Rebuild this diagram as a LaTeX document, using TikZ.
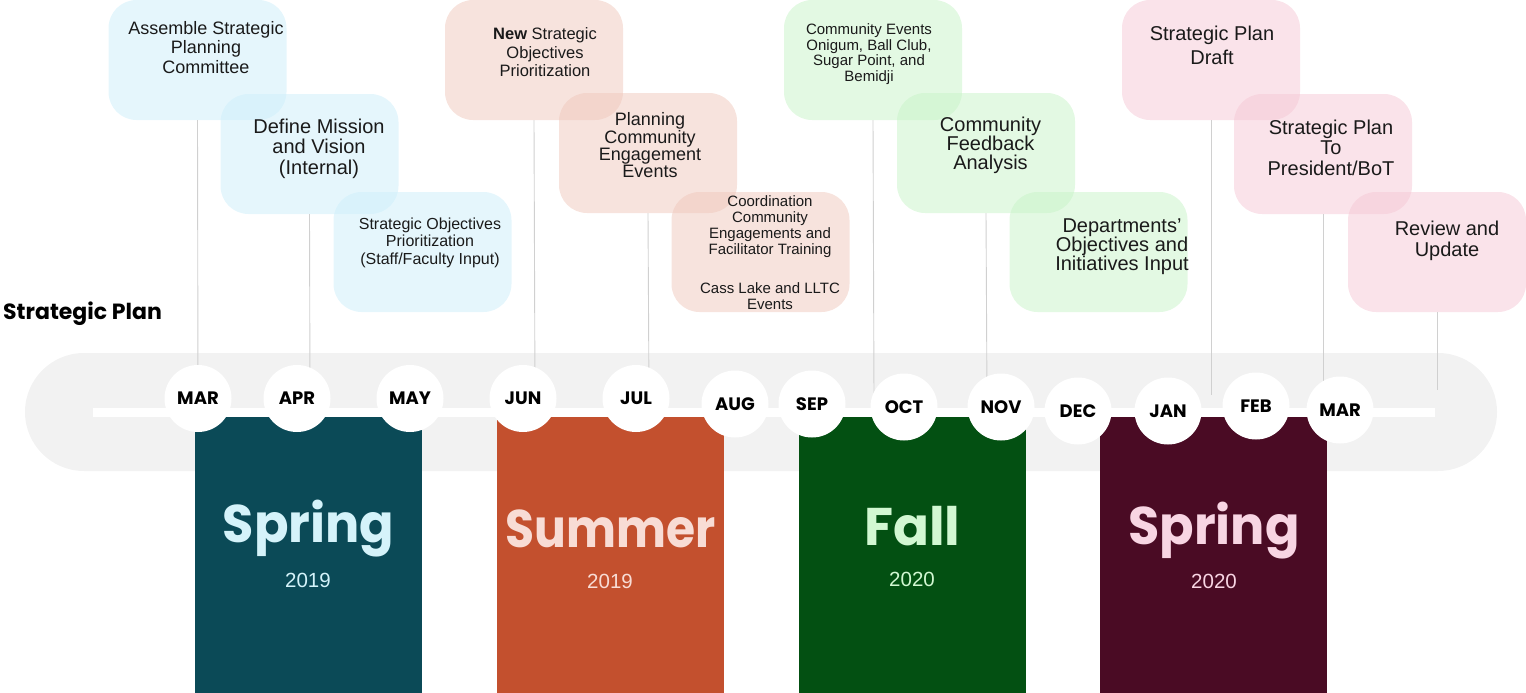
\documentclass[tikz,border=0pt]{standalone}
\usepackage{graphicx}
\usepackage{fontspec}
\setmainfont{Liberation Sans}
\newfontfamily\gothic{Poppins}
\definecolor{band}{RGB}{242,242,242}
\definecolor{lead}{RGB}{208,208,208}
\definecolor{txt}{RGB}{26,26,26}
\definecolor{bluefill}{RGB}{204,238,250}
\definecolor{orangefill}{RGB}{239,199,187}
\definecolor{greenfill}{RGB}{199,243,199}
\definecolor{pinkfill}{RGB}{245,199,213}
\definecolor{springA}{RGB}{11,74,87}
\definecolor{summerC}{RGB}{195,80,46}
\definecolor{fallC}{RGB}{3,80,18}
\definecolor{springB}{RGB}{74,11,36}
\definecolor{springAt}{RGB}{213,243,250}
\definecolor{summerCt}{RGB}{248,220,213}
\definecolor{fallCt}{RGB}{210,248,210}
\definecolor{springBt}{RGB}{248,213,227}
\tikzset{
  box/.style={rounded corners=28pt, minimum width=178pt, minimum height=120pt, inner sep=0pt, fill opacity=0.5},
  boxtext/.style={align=center, inner sep=0pt, text=txt},
  leader/.style={draw=lead, line width=0.9pt},
  month/.style={circle, fill=white, minimum size=67pt, inner sep=0pt, font=\gothic\bfseries\fontsize{18pt}{20pt}\selectfont, text=black},
  season/.style={inner sep=0pt, anchor=base, font=\gothic\bfseries\fontsize{53pt}{60pt}\selectfont},
  year/.style={inner sep=0pt, anchor=base, font=\fontsize{20.5pt}{22pt}\selectfont},
  block/.style={inner sep=0pt, minimum width=227pt, minimum height=276pt, anchor=north west}
}
\begin{document}
\begin{tikzpicture}[x=1pt,y=-1pt]
\useasboundingbox (0,0) rectangle (1526,693);
% band and white line
\fill[band, rounded corners=59pt] (25,353) rectangle (1497,471);
\fill[white] (93,408) rectangle (1435,417);
% season blocks
\node[block, fill=springA] (sA) at (195,417) {};
\node[block, fill=summerC] (sS) at (497,417) {};
\node[block, fill=fallC] (sF) at (799,417) {};
\node[block, fill=springB] (sB) at (1100,417) {};
% boxes
\node[box, fill=bluefill] (b1) at (197.5,60) {};
\node[box, fill=bluefill] (b2) at (309.5,154) {};
\node[box, fill=bluefill] (b3) at (422.5,252) {};
\node[box, fill=orangefill] (o1) at (534,60) {};
\node[box, fill=orangefill] (o2) at (648,153) {};
\node[box, fill=orangefill] (o3) at (760.5,252) {};
\node[box, fill=greenfill] (g1) at (873,60) {};
\node[box, fill=greenfill] (g2) at (986,153) {};
\node[box, fill=greenfill] (g3) at (1098.5,252) {};
\node[box, fill=pinkfill] (p1) at (1211,60) {};
\node[box, fill=pinkfill] (p2) at (1323,154) {};
\node[box, fill=pinkfill] (p3) at (1437,252) {};
% leader ends
\coordinate (e1) at (198,398);
\coordinate (e2) at (310,398);
\coordinate (e3) at (535,398);
\coordinate (e4) at (649,398);
\coordinate (e5) at (874,400);
\coordinate (e6) at (987,400);
\coordinate (e7) at (1211,395);
\coordinate (e8) at (1323,395);
\coordinate (e9) at (1437,390);
\draw[leader] (b1.south) -- (e1);
\draw[leader] (b2.south) -- (e2);
\draw[leader] (o1.south) -- (e3);
\draw[leader] (o2.south) -- (e4);
\draw[leader] (g1.south) -- (e5);
\draw[leader] (g2.south) -- (e6);
\draw[leader] (p1.south) -- (e7);
\draw[leader] (p2.south) -- (e8);
\draw[leader] (p3.south) -- (e9);
% months
\node[month] (m1) at (198,398.5) {MAR};
\node[month] (m2) at (297,398.5) {APR};
\node[month] (m3) at (410,398.5) {MAY};
\node[month] (m4) at (523,398.5) {JUN};
\node[month] (m5) at (636,398.5) {JUL};
\node[month] (m6) at (735,404) {AUG};
\node[month] (m7) at (812,404) {SEP};
\node[month] (m8) at (904,407) {OCT};
\node[month] (m9) at (1001,407) {NOV};
\node[month] (m10) at (1078,411) {DEC};
\node[month] (m11) at (1168,411) {JAN};
\node[month] (m12) at (1256,406) {FEB};
\node[month] (m13) at (1340,410) {MAR};
% box texts
\node[boxtext, font=\fontsize{18pt}{19.5pt}\selectfont] (tb1) at (206,47.5) {Assemble Strategic\\Planning\\Committee};
\node[boxtext, font=\fontsize{20pt}{20.5pt}\selectfont] (tb2) at (319,148.5) {Define Mission\\and Vision\\(Internal)};
\node[boxtext, font=\fontsize{16pt}{17.5pt}\selectfont] (tb3) at (430,242.5) {Strategic Objectives\\Prioritization\\(Staff/Faculty Input)};
\node[boxtext, font=\fontsize{16.5pt}{18.5pt}\selectfont] (to1) at (545,52.5) {\textbf{New} Strategic\\Objectives\\Prioritization};
\node[boxtext, font=\fontsize{18pt}{15pt}\selectfont] (to2) at (650,145.5) {Planning\\Community\\Engagement\\Events};
\node[boxtext, font=\fontsize{15pt}{16pt}\selectfont] (to3) at (770,253) {Coordination\\Community\\Engagements and\\Facilitator Training\\[23pt]Cass Lake and LLTC\\Events};
\node[boxtext, font=\fontsize{15pt}{15.5pt}\selectfont] (tg1) at (869,54) {Community Events\\Onigum, Ball Club,\\Sugar Point, and\\Bemidji};
\node[boxtext, font=\fontsize{20pt}{18.5pt}\selectfont] (tg2) at (990.5,145) {Community\\Feedback\\Analysis};
\node[boxtext, font=\fontsize{20pt}{19pt}\selectfont] (tg3) at (1122,247) {Departments'\\Objectives and\\Initiatives Input};
\node[boxtext, font=\fontsize{20pt}{24pt}\selectfont] (tp1) at (1212,45) {Strategic Plan\\Draft};
\node[boxtext, font=\fontsize{20pt}{20.5pt}\selectfont] (tp2) at (1331,147.5) {Strategic Plan\\To\\President/BoT};
\node[boxtext, font=\fontsize{20pt}{21pt}\selectfont] (tp3) at (1447,240.5) {Review and\\Update};
% title
\node[inner sep=0pt, anchor=base west, font=\gothic\bfseries\fontsize{22pt}{24pt}\selectfont, text=black] (title) at (3,319) {Strategic Plan};
% season texts
\node[season, text=springAt] (nA) at (308.5,542) {\scalebox{0.96}[1]{Spring}};
\node[year, text=springAt] (yA) at (308,587) {2019};
\node[season, text=summerCt] (nS) at (610.5,547) {\scalebox{0.89}[1]{Summer}};
\node[year, text=summerCt] (yS) at (610,588) {2019};
\node[season, text=fallCt] (nF) at (912.5,545) {Fall};
\node[year, text=fallCt] (yF) at (912,586) {2020};
\node[season, text=springBt] (nB) at (1214,544) {\scalebox{0.96}[1]{Spring}};
\node[year, text=springBt] (yB) at (1214,588) {2020};
\end{tikzpicture}
\end{document}
